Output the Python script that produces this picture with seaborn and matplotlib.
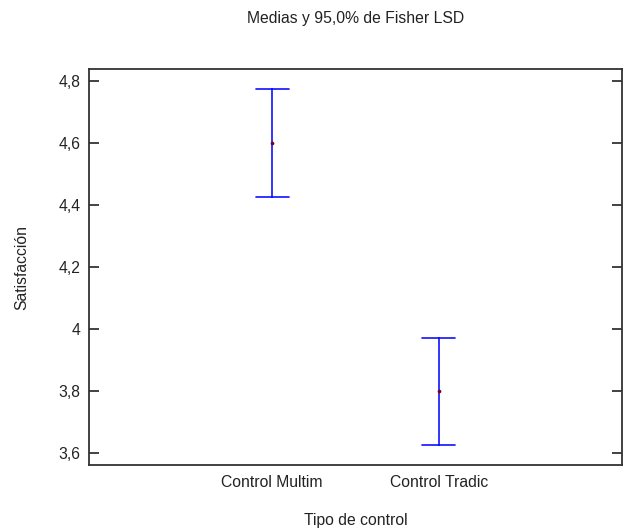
import matplotlib
matplotlib.use("Agg")
import matplotlib.pyplot as plt
import seaborn as sns
import pandas as pd
from matplotlib.ticker import FixedLocator, FuncFormatter

# LSD intervals
groups = ["Control Multim", "Control Tradic"]
means = [4.6, 3.8]
lower = [4.426, 3.625]
upper = [4.775, 3.970]
yticks = [3.6, 3.8, 4.0, 4.2, 4.4, 4.6, 4.8]

sns.set_theme(style="white")
plt.rcParams["font.family"] = ["Liberation Sans", "DejaVu Sans"]
FS = 11.3

# long table: lower / mean / upper per group -> median = mean, 100% PI = interval
rows = []
for g, lo, m, hi in zip(groups, lower, means, upper):
    for v in (lo, m, hi):
        rows.append({"Tipo de control": g, "Satisfacción": v})
df = pd.DataFrame(rows)
df_means = pd.DataFrame({"Tipo de control": groups, "Satisfacción": means})

fig = plt.figure(figsize=(6.24, 5.29), dpi=100)
ax = fig.add_axes([89 / 624, 64 / 529, 533 / 624, 396 / 529])

sns.pointplot(data=df, x="Tipo de control", y="Satisfacción", estimator="median",
              errorbar=("pi", 100), capsize=0.2, color="#1010ff", linestyle="none",
              marker="", err_kws={"linewidth": 1.2}, ax=ax)
sns.scatterplot(data=df_means, x="Tipo de control", y="Satisfacción", color="#7a0020",
                s=7, linewidth=0, ax=ax, zorder=5)

ax.set_xlim(-1.1, 2.1)
ax.set_ylim(3.56, 4.838)
ax.yaxis.set_major_locator(FixedLocator(yticks))
ax.yaxis.set_major_formatter(FuncFormatter(lambda v, p: f"{v:g}".replace(".", ",")))

ax.tick_params(axis="y", direction="in", length=7.5, width=1.2, color="#222222",
               left=True, right=True, labelsize=FS, pad=6, labelcolor="#222222")
ax.tick_params(axis="x", length=0, labelsize=FS, pad=7, labelcolor="#222222")
for s in ax.spines.values():
    s.set_color("#333333")
    s.set_linewidth(1.3)

ax.set_xlabel("Tipo de control", fontsize=FS, color="#222222")
ax.set_ylabel("Satisfacción", fontsize=FS, color="#222222")
ax.xaxis.set_label_coords(0.5, -0.122)
ax.yaxis.set_label_coords(-0.112, 0.5)

fig.text(356 / 624, 1 - 19 / 529, "Medias y 95,0% de Fisher LSD", ha="center",
         va="center", fontsize=FS, color="#222222")

fig.savefig("out.png", dpi=100)
